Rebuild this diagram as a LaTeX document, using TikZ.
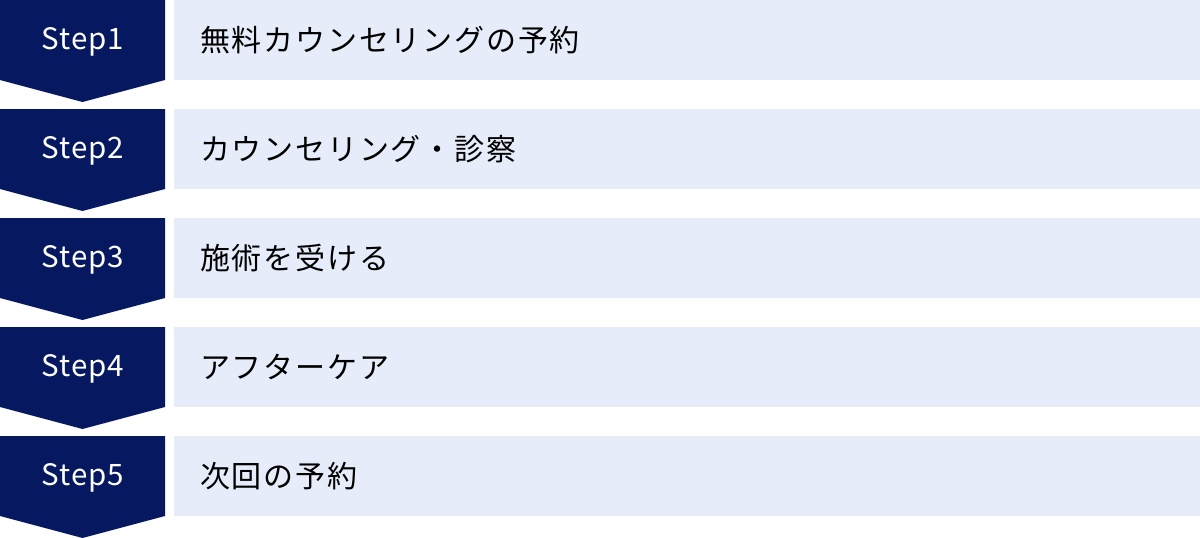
\documentclass[tikz,border=0pt]{standalone}
\usepackage{fontspec}
\setmainfont{Noto Sans CJK JP}
\newfontfamily\taskfont[LetterSpace=6]{Noto Sans CJK JP}
\newfontfamily\stepfont[LetterSpace=3]{Noto Sans CJK JP}
\definecolor{stepnavy}{RGB}{5,24,96}
\definecolor{tasklight}{RGB}{230,236,249}
\tikzset{
    steparrow/.style={fill=stepnavy},
    steplabel/.style={text=white, font=\stepfont\fontsize{29.5}{34}\selectfont, inner sep=0pt},
    taskbox/.style={fill=tasklight, anchor=north west, minimum width=1026pt, minimum height=80pt, text width=974pt, inner xsep=26pt, inner ysep=0pt, align=left, font=\taskfont\fontsize{30}{34}\selectfont}
}
\begin{document}
\begin{tikzpicture}[x=1pt, y=-1pt]
    \useasboundingbox (0,0) rectangle (1200,538);

    \fill[steparrow] (0,0) -- (165,0) -- (165,80) -- (82.5,102) -- (0,80) -- cycle;
    \node[steplabel] (s1) at (83,42) {Step1};
    \node[taskbox] (t1) at (174,0) {無料カウンセリングの予約};

    \fill[steparrow] (0,109) -- (165,109) -- (165,189) -- (82.5,211) -- (0,189) -- cycle;
    \node[steplabel] (s2) at (83,151) {Step2};
    \node[taskbox] (t2) at (174,109) {カウンセリング・診察};

    \fill[steparrow] (0,218) -- (165,218) -- (165,298) -- (82.5,320) -- (0,298) -- cycle;
    \node[steplabel] (s3) at (83,260) {Step3};
    \node[taskbox] (t3) at (174,218) {施術を受ける};

    \fill[steparrow] (0,327) -- (165,327) -- (165,407) -- (82.5,429) -- (0,407) -- cycle;
    \node[steplabel] (s4) at (83,369) {Step4};
    \node[taskbox] (t4) at (174,327) {アフターケア};

    \fill[steparrow] (0,436) -- (165,436) -- (165,516) -- (82.5,538) -- (0,516) -- cycle;
    \node[steplabel] (s5) at (83,478) {Step5};
    \node[taskbox] (t5) at (174,436) {次回の予約};

\end{tikzpicture}
\end{document}
